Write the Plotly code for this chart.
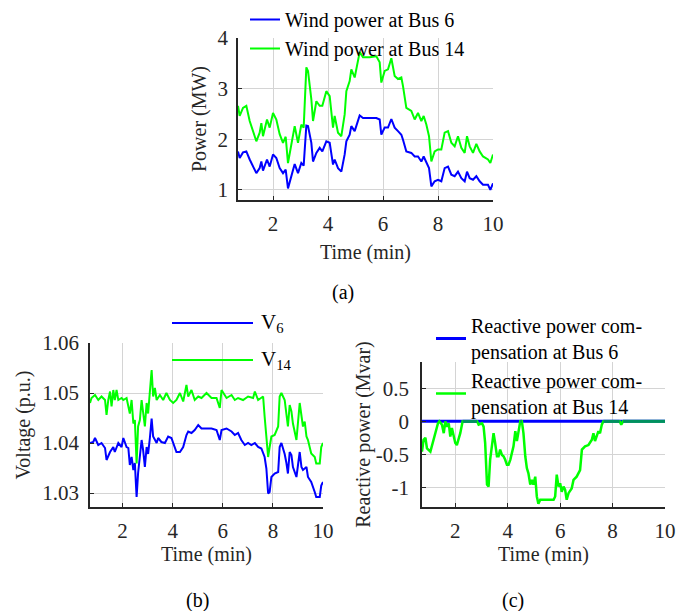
import plotly.graph_objects as go

# ---------------- (a) wind power ----------------
ta = [0.727, 0.788, 0.909, 1.030, 1.152, 1.333, 1.394, 1.515, 1.576, 1.636, 1.782, 1.879,
      2.000, 2.121, 2.242, 2.364, 2.461, 2.545, 2.667, 2.788, 2.909, 3.030, 3.115, 3.212,
      3.273, 3.394, 3.455, 3.576, 3.697, 3.794, 3.939, 4.061, 4.182, 4.242, 4.364, 4.485,
      4.606, 4.667, 4.788, 4.848, 4.970, 5.152, 5.273, 5.515, 5.758, 5.879, 5.939, 6.061,
      6.182, 6.303, 6.424, 6.545, 6.667, 6.727, 6.848, 7.030, 7.152, 7.273, 7.394, 7.479,
      7.576, 7.673, 7.758, 7.879, 8.000, 8.121, 8.242, 8.364, 8.485, 8.606, 8.727, 8.848,
      8.970, 9.055, 9.152, 9.273, 9.394, 9.515, 9.636, 9.818, 9.903, 10.0]
p_bus6 = [1.76, 1.63, 1.74, 1.76, 1.60, 1.40, 1.33, 1.43, 1.56, 1.38, 1.60, 1.46,
          1.70, 1.63, 1.43, 1.33, 1.40, 1.03, 1.30, 1.51, 1.33, 1.53, 1.48, 2.27,
          2.26, 1.93, 1.56, 1.73, 1.83, 1.76, 1.96, 1.93, 1.50, 1.60, 1.43, 1.36,
          1.70, 1.96, 2.09, 2.26, 2.16, 2.47, 2.42, 2.42, 2.42, 2.39, 2.09, 2.23,
          2.23, 2.40, 2.23, 2.16, 2.09, 1.99, 1.76, 1.73, 1.66, 1.66, 1.56, 1.66,
          1.56, 1.43, 1.07, 1.17, 1.20, 1.17, 1.43, 1.46, 1.30, 1.27, 1.36, 1.23,
          1.17, 1.36, 1.23, 1.20, 1.27, 1.17, 1.10, 1.10, 1.00, 1.13]
p_bus14 = [2.66, 2.46, 2.62, 2.66, 2.36, 2.06, 1.96, 2.13, 2.32, 2.06, 2.39, 2.23,
           2.52, 2.39, 2.10, 1.93, 2.05, 1.53, 1.86, 2.26, 1.93, 2.29, 2.23, 3.42,
           3.35, 2.79, 2.36, 2.75, 2.66, 2.66, 2.95, 2.85, 2.23, 2.46, 2.13, 2.06,
           2.49, 2.95, 3.15, 3.38, 3.22, 3.72, 3.62, 3.62, 3.64, 3.52, 3.12, 3.35,
           3.38, 3.60, 3.25, 3.19, 3.22, 3.05, 2.62, 2.56, 2.39, 2.52, 2.36, 2.46,
           2.29, 2.06, 1.56, 1.76, 1.80, 1.80, 2.13, 2.16, 1.93, 1.86, 2.06, 1.83,
           1.73, 2.06, 1.86, 1.73, 1.91, 1.76, 1.66, 1.60, 1.53, 1.70]

# ---------------- (b) voltages ----------------
tb6 = [0.70, 0.83, 0.90, 1.03, 1.16, 1.30, 1.36, 1.50, 1.63, 1.69, 1.83, 1.96, 2.03, 2.16,
       2.23, 2.29, 2.36, 2.43, 2.49, 2.56, 2.62, 2.69, 2.76, 2.82, 2.89, 2.96, 3.02, 3.09,
       3.16, 3.22, 3.29, 3.36, 3.42, 3.55, 3.69, 3.82, 3.95, 4.09, 4.15, 4.29, 4.42, 4.55,
       4.62, 4.75, 4.88, 5.02, 5.15, 5.35, 5.55, 5.75, 5.88, 5.95, 6.15, 6.35, 6.48, 6.61,
       6.74, 6.88, 7.01, 7.14, 7.28, 7.41, 7.54, 7.67, 7.74, 7.81, 7.87, 7.94, 8.07, 8.21,
       8.27, 8.34, 8.47, 8.54, 8.60, 8.67, 8.74, 8.80, 8.94, 9.07, 9.14, 9.20, 9.34, 9.40,
       9.53, 9.67, 9.73, 9.87, 9.93, 10.0]
v_bus6 = [1.0400, 1.0402, 1.0410, 1.0396, 1.0400, 1.0390, 1.0366, 1.0382, 1.0392, 1.0382,
          1.0400, 1.0392, 1.0410, 1.0392, 1.0390, 1.0356, 1.0372, 1.0346, 1.0360, 1.0292,
          1.0340, 1.0378, 1.0406, 1.0386, 1.0352, 1.0392, 1.0378, 1.0410, 1.0449, 1.0413,
          1.0406, 1.0400, 1.0410, 1.0402, 1.0400, 1.0413, 1.0410, 1.0392, 1.0382, 1.0382,
          1.0392, 1.0416, 1.0423, 1.0420, 1.0426, 1.0436, 1.0429, 1.0429, 1.0429, 1.0426,
          1.0406, 1.0426, 1.0429, 1.0423, 1.0416, 1.0420, 1.0406, 1.0396, 1.0400, 1.0396,
          1.0400, 1.0392, 1.0389, 1.0372, 1.0349, 1.0299, 1.0302, 1.0332, 1.0339, 1.0342,
          1.0392, 1.0400, 1.0378, 1.0360, 1.0339, 1.0382, 1.0376, 1.0352, 1.0332, 1.0382,
          1.0352, 1.0346, 1.0352, 1.0332, 1.0322, 1.0302, 1.0292, 1.0292, 1.0315, 1.0322]
tb14 = [0.70, 0.76, 0.90, 1.03, 1.16, 1.30, 1.36, 1.43, 1.50, 1.56, 1.63, 1.69, 1.76, 1.83,
        1.96, 2.03, 2.16, 2.23, 2.29, 2.36, 2.43, 2.49, 2.56, 2.62, 2.69, 2.76, 2.82, 2.89,
        2.96, 3.02, 3.09, 3.16, 3.22, 3.29, 3.36, 3.49, 3.62, 3.75, 3.89, 4.02, 4.15, 4.29,
        4.42, 4.55, 4.62, 4.75, 4.88, 5.02, 5.15, 5.35, 5.55, 5.75, 5.88, 5.95, 6.15, 6.35,
        6.48, 6.61, 6.81, 7.01, 7.21, 7.28, 7.41, 7.61, 7.67, 7.74, 7.81, 7.87, 7.94, 8.07,
        8.21, 8.27, 8.34, 8.47, 8.54, 8.60, 8.67, 8.74, 8.80, 8.94, 9.07, 9.14, 9.20, 9.27,
        9.34, 9.40, 9.53, 9.67, 9.73, 9.87, 9.93, 10.0]
v_bus14 = [1.0480, 1.0490, 1.0496, 1.0486, 1.0493, 1.0486, 1.0456, 1.0486, 1.0503, 1.0473,
           1.0506, 1.0486, 1.0506, 1.0486, 1.0490, 1.0486, 1.0490, 1.0470, 1.0459, 1.0486,
           1.0439, 1.0446, 1.0359, 1.0433, 1.0446, 1.0486, 1.0466, 1.0433, 1.0480, 1.0459,
           1.0503, 1.0546, 1.0493, 1.0510, 1.0486, 1.0496, 1.0486, 1.0500, 1.0486, 1.0480,
           1.0486, 1.0500, 1.0483, 1.0516, 1.0493, 1.0506, 1.0486, 1.0493, 1.0490, 1.0500,
           1.0490, 1.0490, 1.0470, 1.0506, 1.0490, 1.0496, 1.0486, 1.0490, 1.0486, 1.0493,
           1.0490, 1.0503, 1.0486, 1.0493, 1.0453, 1.0419, 1.0372, 1.0392, 1.0413, 1.0416,
           1.0433, 1.0493, 1.0500, 1.0486, 1.0459, 1.0433, 1.0476, 1.0463, 1.0439, 1.0406,
           1.0480, 1.0453, 1.0433, 1.0443, 1.0413, 1.0406, 1.0379, 1.0372, 1.0359, 1.0359,
           1.0392, 1.0400]

# ---------------- (c) reactive power ----------------
tc6 = [0.73, 10.0]
q_bus6 = [0.0, 0.0]
tc14 = [0.73, 0.79, 0.86, 0.92, 1.05, 1.14, 1.24, 1.34, 1.39, 1.49, 1.56, 1.62, 1.68, 1.75,
        1.81, 1.87, 2.00, 2.06, 2.19, 2.28, 2.76, 2.83, 2.89, 3.02, 3.08, 3.14, 3.21, 3.27,
        3.33, 3.40, 3.46, 3.52, 3.59, 3.65, 3.71, 3.78, 3.84, 3.90, 3.97, 4.03, 4.10, 4.22,
        4.29, 4.35, 4.41, 4.48, 4.54, 4.60, 4.67, 4.73, 4.79, 4.86, 4.92, 4.98, 5.05, 5.11,
        5.17, 5.24, 5.37, 5.56, 5.75, 5.81, 5.87, 5.94, 6.00, 6.06, 6.13, 6.19, 6.25, 6.32,
        6.44, 6.51, 6.63, 6.76, 6.83, 6.95, 7.08, 7.21, 7.27, 7.33, 7.40, 7.46, 7.52, 7.59,
        7.65, 7.71, 8.27, 8.33, 8.40, 10.0]
q_bus14 = [-0.46, -0.28, -0.25, -0.41, -0.46, -0.33, -0.15, -0.03, 0.0, -0.05, -0.18, 0.0,
           -0.08, -0.03, -0.23, -0.10, -0.33, -0.36, -0.18, 0.0, 0.0, 0.0, -0.05, -0.03,
           -0.08, -0.33, -0.96, -0.99, -0.58, -0.38, -0.18, -0.33, -0.53, -0.53, -0.43,
           -0.51, -0.53, -0.58, -0.66, -0.66, -0.58, -0.38, -0.15, -0.30, -0.13, 0.0, 0.0,
           -0.18, -0.53, -0.71, -0.79, -0.96, -0.89, -0.96, -0.84, -1.14, -1.25, -1.19,
           -1.19, -1.19, -1.19, -1.14, -0.81, -0.99, -0.94, -1.07, -0.99, -1.04, -1.19,
           -1.09, -1.02, -0.89, -0.84, -0.74, -0.43, -0.38, -0.36, -0.28, -0.18, -0.30,
           -0.23, -0.15, -0.18, -0.05, 0.0, 0.0, 0.0, -0.05, 0.0, 0.0]

x_ticks = [2, 4, 6, 8, 10]
ya_ticks = [1, 2, 3, 4]
yb_ticks = [1.03, 1.04, 1.05, 1.06]
yb_text = ["1.03", "1.04", "1.05", "1.06"]
yc_ticks = [-1, -0.5, 0, 0.5]
yc_text = ["-1", "-0.5", "0", "0.5"]

BLUE = "rgb(0,0,255)"
GREEN = "rgb(0,255,0)"
OVERLAP = "rgb(0,145,95)"
FONT = "Liberation Serif"
OFF = 8                       # page body offset of the figure in the browser window
W, H = 688 - OFF, 611 - OFF   # figure size


def px_x(p):
    return (p - OFF) / W


def px_y(p):
    return 1 - (p - OFF) / H


fig = go.Figure()

# (a)
fig.add_trace(go.Scatter(x=ta, y=p_bus6, mode="lines", name="Wind power at Bus 6",
                         line=dict(color=BLUE, width=2), xaxis="x", yaxis="y", legend="legend"))
fig.add_trace(go.Scatter(x=ta, y=p_bus14, mode="lines", name="Wind power at Bus 14",
                         line=dict(color=GREEN, width=2), xaxis="x", yaxis="y", legend="legend"))
# (b)
fig.add_trace(go.Scatter(x=tb6, y=v_bus6, mode="lines", name="V6", showlegend=False,
                         line=dict(color=BLUE, width=2), xaxis="x2", yaxis="y2"))
fig.add_trace(go.Scatter(x=tb14, y=v_bus14, mode="lines", name="V14", showlegend=False,
                         line=dict(color=GREEN, width=2), xaxis="x2", yaxis="y2"))
# (c)
fig.add_trace(go.Scatter(x=tc6, y=q_bus6, mode="lines",
                         name="Reactive power com-<br>pensation at Bus 6",
                         line=dict(color=BLUE, width=3), xaxis="x3", yaxis="y3", legend="legend2"))
fig.add_trace(go.Scatter(x=tc14, y=q_bus14, mode="lines",
                         name="Reactive power com-<br>pensation at Bus 14",
                         line=dict(color=GREEN, width=2.5), xaxis="x3", yaxis="y3", legend="legend2"))
# overlap of both compensations at zero
ox, oy = [], []
for i in range(1, len(tc14)):
    if q_bus14[i] == 0 and q_bus14[i - 1] == 0:
        if ox and ox[-1] == tc14[i - 1]:
            ox.append(tc14[i]); oy.append(0.0)
        else:
            if ox:
                ox.append(None); oy.append(None)
            ox += [tc14[i - 1], tc14[i]]; oy += [0.0, 0.0]
fig.add_trace(go.Scatter(x=ox, y=oy, mode="lines", showlegend=False, hoverinfo="skip",
                         line=dict(color=OVERLAP, width=3), xaxis="x3", yaxis="y3"))

axis_common = dict(showgrid=True, gridcolor="#d4d4d4", gridwidth=1, zeroline=False,
                   showline=True, linecolor="#262626", linewidth=1.5, mirror=False,
                   ticks="inside", ticklen=4, tickcolor="#262626", tickwidth=1,
                   automargin=False,
                   tickfont=dict(family=FONT, size=21, color="#262626"),
                   title_font=dict(family=FONT, size=20, color="#262626"))

fig.update_layout(
    width=W, height=H, margin=dict(l=0, r=0, t=0, b=0, pad=0, autoexpand=False),
    paper_bgcolor="white", plot_bgcolor="white",
    font=dict(family=FONT, size=20, color="black"),
    xaxis=dict(domain=[px_x(238), px_x(493)], anchor="y", range=[0.727, 10], tickvals=x_ticks,
               title_text="Time (min)", title_standoff=10, ticklabelstandoff=4, **axis_common),
    yaxis=dict(domain=[px_y(200), px_y(38)], anchor="x", range=[0.8, 4], tickvals=ya_ticks,
               title_text="Power (MW)", title_standoff=6, ticklabelstandoff=4, **axis_common),
    xaxis2=dict(domain=[px_x(90), px_x(323)], anchor="y2", range=[0.70, 10], tickvals=x_ticks,
                title_text="Time (min)", title_standoff=5, ticklabelstandoff=4, **axis_common),
    yaxis2=dict(domain=[px_y(507), px_y(343)], anchor="x2", range=[1.0272, 1.06],
                tickvals=yb_ticks, ticktext=yb_text,
                title_text="Voltage (p.u.)", title_standoff=6, ticklabelstandoff=5, **axis_common),
    xaxis3=dict(domain=[px_x(422), px_x(665)], anchor="y3", range=[0.73, 10], tickvals=x_ticks,
                title_text="Time (min)", title_standoff=5, ticklabelstandoff=4, **axis_common),
    yaxis3=dict(domain=[px_y(507), px_y(362)], anchor="x3", range=[-1.3, 0.9],
                tickvals=yc_ticks, ticktext=yc_text,
                title_text="Reactive power (Mvar)", title_standoff=0, ticklabelstandoff=7,
                **axis_common),
    legend=dict(x=px_x(245), y=px_y(0), xanchor="left", yanchor="top",
                bgcolor="rgba(0,0,0,0)", borderwidth=0, tracegroupgap=0,
                font=dict(family=FONT, size=20, color="black")),
    legend2=dict(x=px_x(431), y=px_y(306), xanchor="left", yanchor="top",
                 bgcolor="rgba(0,0,0,0)", borderwidth=0, tracegroupgap=0,
                 font=dict(family=FONT, size=20, color="black")),
)

# manual legend for (b) (long sample lines)
fig.add_shape(type="line", xref="paper", yref="paper", x0=px_x(172), x1=px_x(253),
              y0=px_y(323), y1=px_y(323), line=dict(color=BLUE, width=2))
fig.add_shape(type="line", xref="paper", yref="paper", x0=px_x(172), x1=px_x(253),
              y0=px_y(360), y1=px_y(360), line=dict(color=GREEN, width=2))
fig.add_annotation(text="V<sub>6</sub>", xref="paper", yref="paper", x=px_x(259), y=px_y(323),
                   xanchor="left", yanchor="middle", showarrow=False,
                   font=dict(family=FONT, size=21, color="black"))
fig.add_annotation(text="V<sub>14</sub>", xref="paper", yref="paper", x=px_x(259), y=px_y(360),
                   xanchor="left", yanchor="middle", showarrow=False,
                   font=dict(family=FONT, size=21, color="black"))

# sub-figure captions
for lbl, cx, cy in [("(a)", 343, 292), ("(b)", 197, 600), ("(c)", 513, 600)]:
    fig.add_annotation(text=lbl, xref="paper", yref="paper", x=px_x(cx), y=px_y(cy),
                       xanchor="center", yanchor="middle", showarrow=False,
                       font=dict(family=FONT, size=20, color="black"))

fig.write_html("out.html")
